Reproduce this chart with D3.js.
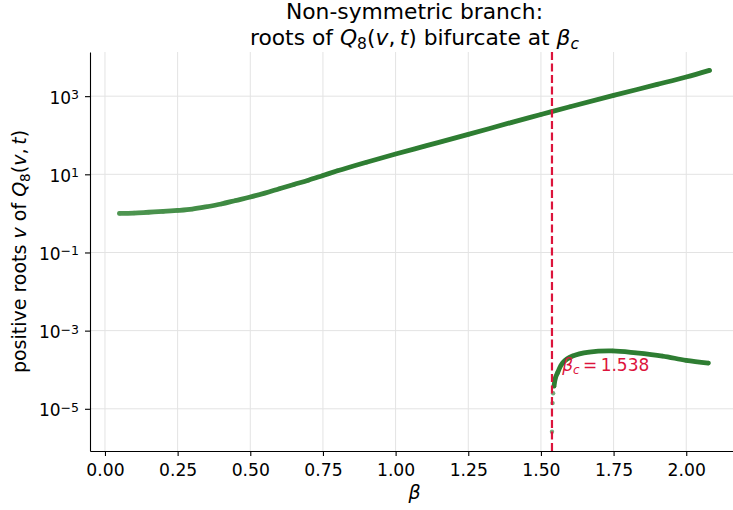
<!DOCTYPE html>
<html>
<head>
<meta charset="utf-8">
<script src="https://cdn.jsdelivr.net/npm/d3@7"></script>
<style>
  body { margin: 0; background: #fff; }
  text { font-family: "DejaVu Sans", sans-serif; }
</style>
</head>
<body>
<svg id="chart"></svg>
<script>
// Values
const betaUpper = [0.05, 0.10, 0.15, 0.20, 0.25, 0.30, 0.35, 0.40, 0.45, 0.50, 0.55, 0.60, 0.65,
                   0.70, 0.75, 0.80, 0.90, 1.00, 1.10, 1.25, 1.40, 1.50, 1.60, 1.75, 1.90, 2.00, 2.08];
const vUpper = [1.00, 1.02, 1.07, 1.12, 1.19, 1.29, 1.48, 1.74, 2.14, 2.63, 3.31, 4.27, 5.50,
                7.08, 9.33, 12.3, 20.4, 33.1, 52.5, 105, 214, 339, 537, 1047, 1995, 3090, 4571];

const betaLower = [1.538, 1.540, 1.542, 1.545, 1.550, 1.557, 1.575, 1.609, 1.666, 1.746,
                   1.827, 1.918, 1.999, 2.076];
const vLower = [2.6e-6, 1.4e-5, 2.5e-5, 3.8e-5, 6.2e-5, 8.3e-5, 1.51e-4, 2.24e-4, 2.82e-4,
                3.02e-4, 2.69e-4, 2.24e-4, 1.74e-4, 1.48e-4];

const betaC = 1.538;
const xTicks = [0, 0.25, 0.5, 0.75, 1.0, 1.25, 1.5, 1.75, 2.0];
const yTickExps = [-5, -3, -1, 1, 3];

const W = 733, H = 510;
const plotLeft = 90, plotRight = 739, plotTop = 52, plotBottom = 451;
const green = '#2e7d32';
const red = '#dc143c';

const svg = d3.select('#chart').attr('width', W).attr('height', H);

const x = d3.scaleLinear().domain([-0.0515, 2.1815]).range([plotLeft, plotRight]);
const y = d3.scaleLog().domain([Math.pow(10, -6.08), Math.pow(10, 4.13)]).range([plotBottom, plotTop]);

// grid
svg.append('g')
    .selectAll('line')
    .data(xTicks)
    .enter().append('line')
    .attr('x1', d => x(d)).attr('x2', d => x(d))
    .attr('y1', plotTop).attr('y2', plotBottom)
    .attr('stroke', '#e3e3e3').attr('stroke-width', 1);

svg.append('g')
    .selectAll('line')
    .data(yTickExps)
    .enter().append('line')
    .attr('x1', plotLeft).attr('x2', plotRight)
    .attr('y1', d => y(Math.pow(10, d))).attr('y2', d => y(Math.pow(10, d)))
    .attr('stroke', '#e3e3e3').attr('stroke-width', 1);

// x axis
const xAxis = svg.append('g')
    .attr('transform', `translate(0,${plotBottom})`)
    .call(d3.axisBottom(x).tickValues(xTicks).tickFormat(d3.format('.2f')).tickSize(5).tickSizeOuter(0));
xAxis.select('.domain').attr('stroke', '#000').attr('stroke-width', 1.1);
xAxis.selectAll('.tick line').attr('stroke', '#000').attr('stroke-width', 1.1);
xAxis.selectAll('.tick text')
    .attr('font-family', 'DejaVu Sans').attr('font-size', 17.2)
    .attr('fill', '#000').attr('dy', null).attr('y', 25);

// y axis
const yAxis = svg.append('g')
    .attr('transform', `translate(${plotLeft},0)`)
    .call(d3.axisLeft(y).tickValues(yTickExps.map(e => Math.pow(10, e))).tickFormat('').tickSize(5).tickSizeOuter(0));
yAxis.select('.domain').attr('stroke', '#000').attr('stroke-width', 1.1);
yAxis.selectAll('.tick line').attr('stroke', '#000').attr('stroke-width', 1.1);

const yLab = svg.append('g').selectAll('text')
    .data(yTickExps)
    .enter().append('text')
    .attr('x', plotLeft - 11)
    .attr('y', d => y(Math.pow(10, d)) + 7.5)
    .attr('text-anchor', 'end')
    .attr('font-size', 17)
    .attr('fill', '#000');
yLab.append('tspan').text('10');
yLab.append('tspan')
    .attr('font-size', 12.5)
    .attr('dy', -4.5)
    .text(d => String(d).replace('-', '\u2212'));

// points and trace
const upper = betaUpper.map((b, i) => [b, vUpper[i]]);
const lower = betaLower.map((b, i) => [b, vLower[i]]);

// the start of the upper branch is sparser, so it looks lighter
const grad = svg.append('defs').append('linearGradient')
    .attr('id', 'fade')
    .attr('gradientUnits', 'userSpaceOnUse')
    .attr('x1', x(0.05)).attr('x2', x(0.8))
    .attr('y1', 0).attr('y2', 0);
grad.append('stop').attr('offset', 0).attr('stop-color', '#4f9652');
grad.append('stop').attr('offset', 1).attr('stop-color', green);

svg.append('g')
    .selectAll('circle')
    .data(upper.concat(lower))
    .enter().append('circle')
    .attr('cx', d => x(d[0]))
    .attr('cy', d => y(d[1]))
    .attr('r', 2.2)
    .attr('fill', green)
    .attr('fill-opacity', 0.65);

const line = d3.line()
    .x(d => x(d[0]))
    .y(d => y(d[1]))
    .curve(d3.curveMonotoneX);

svg.append('path')
    .datum(upper)
    .attr('d', line)
    .attr('fill', 'none')
    .attr('stroke', 'url(#fade)')
    .attr('stroke-width', 4.8)
    .attr('stroke-linecap', 'round');

svg.append('path')
    .datum(lower.slice(3))
    .attr('d', d3.line().x(d => x(d[0])).y(d => y(d[1])).curve(d3.curveCatmullRom))
    .attr('fill', 'none')
    .attr('stroke', green)
    .attr('stroke-width', 4.8)
    .attr('stroke-linecap', 'round');

// critical beta
svg.append('line')
    .attr('x1', x(betaC)).attr('x2', x(betaC))
    .attr('y1', plotTop).attr('y2', plotBottom)
    .attr('stroke', red)
    .attr('stroke-width', 2.2)
    .attr('stroke-dasharray', '8,3.5');

const bcLabel = svg.append('text')
    .attr('x', x(betaC + 0.035))
    .attr('y', y(1e-4) + 1)
    .attr('font-size', 17)
    .attr('fill', red);
bcLabel.append('tspan').attr('font-style', 'italic').text('β');
bcLabel.append('tspan').attr('font-style', 'italic').attr('font-size', 12).attr('dy', 3.5).text('c');
bcLabel.append('tspan').attr('dy', -3.5).text('\u2009=\u20091.538');

// titles
svg.append('text')
    .attr('x', (plotLeft + plotRight) / 2).attr('y', 19)
    .attr('text-anchor', 'middle')
    .attr('font-size', 21.8)
    .text('Non-symmetric branch:');

const title2 = svg.append('text')
    .attr('x', (plotLeft + plotRight) / 2).attr('y', 45)
    .attr('text-anchor', 'middle')
    .attr('font-size', 21.8);
title2.append('tspan').text('roots of ');
title2.append('tspan').attr('font-style', 'italic').text('Q');
title2.append('tspan').attr('font-size', 15.5).attr('dy', 4).text('8');
title2.append('tspan').attr('dy', -4).text('(');
title2.append('tspan').attr('font-style', 'italic').text('v');
title2.append('tspan').text(',\u2009');
title2.append('tspan').attr('font-style', 'italic').text('t');
title2.append('tspan').text(') bifurcate at ');
title2.append('tspan').attr('font-style', 'italic').text('β');
title2.append('tspan').attr('font-style', 'italic').attr('font-size', 15.5).attr('dy', 4).text('c');

// axis labels
svg.append('text')
    .attr('x', (plotLeft + plotRight) / 2).attr('y', 499)
    .attr('text-anchor', 'middle')
    .attr('font-size', 19)
    .attr('font-style', 'italic')
    .text('β');

const yTitle = svg.append('text')
    .attr('transform', `translate(26,${(plotTop + plotBottom) / 2}) rotate(-90)`)
    .attr('text-anchor', 'middle')
    .attr('font-size', 19);
yTitle.append('tspan').text('positive roots ');
yTitle.append('tspan').attr('font-style', 'italic').text('v');
yTitle.append('tspan').text(' of ');
yTitle.append('tspan').attr('font-style', 'italic').text('Q');
yTitle.append('tspan').attr('font-size', 13.5).attr('dy', 4).text('8');
yTitle.append('tspan').attr('dy', -4).text('(');
yTitle.append('tspan').attr('font-style', 'italic').text('v');
yTitle.append('tspan').text(',\u2009');
yTitle.append('tspan').attr('font-style', 'italic').text('t');
yTitle.append('tspan').text(')');
</script>
</body>
</html>
